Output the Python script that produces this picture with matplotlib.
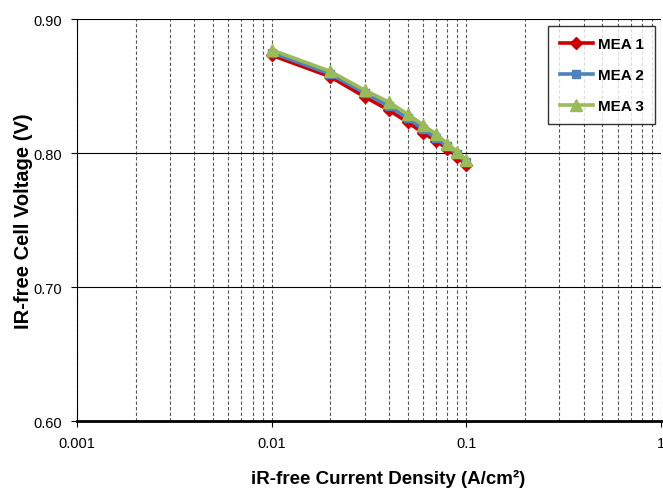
import numpy as np
import matplotlib
matplotlib.use("Agg")
from matplotlib import pyplot as plt
from matplotlib.ticker import FixedLocator, FixedFormatter, LogLocator, NullFormatter

plt.rcParams['font.family'] = ['Liberation Sans', 'DejaVu Sans']

# current density (A/cm2) and iR-free voltage (V)
current = [0.01, 0.02, 0.03, 0.04, 0.05, 0.06, 0.07, 0.08, 0.09, 0.10]
mea1 = [0.873, 0.857, 0.842, 0.832, 0.823, 0.815, 0.809, 0.803, 0.797, 0.791]
mea2 = [0.875, 0.859, 0.845, 0.835, 0.826, 0.818, 0.811, 0.805, 0.799, 0.793]
mea3 = [0.877, 0.861, 0.847, 0.838, 0.829, 0.821, 0.814, 0.807, 0.801, 0.795]

series = [("MEA 1", mea1, "#CC0000", "D", 6),
          ("MEA 2", mea2, "#4F81BD", "s", 6),
          ("MEA 3", mea3, "#9BBB59", "^", 8)]

fig = plt.figure(figsize=(6.63, 4.89), dpi=100)
ax = fig.add_axes([0.116, 0.137, 0.881, 0.822])

for name, v, c, m, ms in series:
    ax.plot(current, v, color=c, marker=m, markersize=ms, linewidth=2.6, label=name)

ax.set_xscale("log")
ax.set_xlim(0.001, 1)
ax.set_ylim(0.60, 0.90)

ax.xaxis.set_major_locator(FixedLocator([0.001, 0.01, 0.1, 1]))
ax.xaxis.set_major_formatter(FixedFormatter(["0.001", "0.01", "0.1", "1"]))
ax.xaxis.set_minor_locator(LogLocator(base=10, subs=np.arange(2, 10)))
ax.xaxis.set_minor_formatter(NullFormatter())
ax.set_yticks([0.60, 0.70, 0.80, 0.90])
ax.set_yticklabels(["0.60", "0.70", "0.80", "0.90"])

ax.grid(True, which="both", axis="x", color="#555555", linestyle=(0, (3, 2)), linewidth=0.8)
ax.grid(True, which="major", axis="y", color="black", linestyle="-", linewidth=0.8)
ax.set_axisbelow(True)

for s in ["top", "right"]:
    ax.spines[s].set_visible(False)
ax.spines["left"].set_linewidth(0.8)
ax.spines["bottom"].set_linewidth(2.0)

ax.tick_params(axis="both", which="major", direction="out", length=4, labelsize=10.5, pad=7)
ax.tick_params(axis="x", which="minor", length=0)

ax.set_xlabel("iR-free Current Density (A/cm²)", fontsize=13.5, fontweight="bold", va="top")
ax.xaxis.set_label_coords(0.532, -0.119)
ax.set_ylabel("IR-free Cell Voltage (V)", fontsize=14.5, fontweight="bold")
ax.yaxis.set_label_coords(-0.076, 0.5)

leg = ax.legend(loc="upper right", bbox_to_anchor=(0.99, 0.983), prop={"weight": "bold", "size": 11},
                frameon=True, fancybox=False, handlelength=2.2, labelspacing=1.1, borderpad=0.75,
                handletextpad=0.3, borderaxespad=0)
leg.get_frame().set_edgecolor("black")
leg.get_frame().set_linewidth(1.0)

fig.savefig("out.png", dpi=100)
